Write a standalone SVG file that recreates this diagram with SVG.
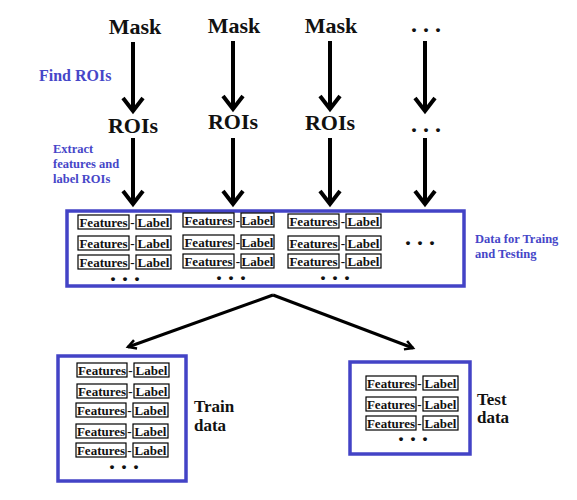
<svg xmlns="http://www.w3.org/2000/svg" width="577" height="500" viewBox="0 0 577 500" font-family="'Liberation Serif', 'Times New Roman', serif" font-weight="bold">
<style>
.big{font-size:22px;fill:#111;text-anchor:middle}
.blue{fill:#4646c8}
.cell{fill:#fff;stroke:#000;stroke-width:1.2}
.ct{font-size:13px;fill:#111;text-anchor:middle}
.dots{font-size:24px;fill:#111;text-anchor:middle}
.frame{fill:#fff;stroke:#4343c6;stroke-width:3.5}
.arr{fill:none;stroke:#000;stroke-width:4}
.bar{fill:none;stroke:#000;stroke-width:3}
.side{font-size:17px;fill:#111}
</style>
<defs>
<marker id="ah" markerWidth="12" markerHeight="12" refX="9" refY="6" orient="auto" markerUnits="userSpaceOnUse">
<path d="M1,1.5 L9,6 L1,10.5" fill="none" stroke="#000" stroke-width="2.5"/>
</marker>
</defs>
<rect width="577" height="500" fill="#fff"/>

<g id="top-row">
<text class="big" x="135" y="34">Mask</text>
<text class="big" x="234" y="33">Mask</text>
<text class="big" x="331" y="33">Mask</text>
<text class="dots" x="426" y="32">. . .</text>
</g>
<g id="roi-row">
<text class="big" x="133" y="133" font-size="21">ROIs</text>
<text class="big" x="233" y="129" font-size="21">ROIs</text>
<text class="big" x="330" y="130" font-size="21">ROIs</text>
<text class="dots" x="426" y="132">. . .</text>
</g>
<g id="labels">
<text class="blue" x="39" y="81" font-size="16">Find ROIs</text>
<text class="blue" x="53" y="153" font-size="12.5">Extract</text>
<text class="blue" x="53" y="168" font-size="12.5">features and</text>
<text class="blue" x="53" y="183" font-size="12.5">label ROIs</text>
<text class="blue" x="475" y="243" font-size="12.5">Data for Traing</text>
<text class="blue" x="475" y="258" font-size="12.5">and Testing</text>
</g>

<g id="connectors">
<line class="arr" x1="133" y1="42" x2="133" y2="110"/><polyline class="arr" points="123,98 133,111 143,98"/>
<line class="arr" x1="233" y1="41" x2="233" y2="108"/><polyline class="arr" points="223,96 233,109 243,96"/>
<line class="arr" x1="330" y1="41" x2="330" y2="108"/><polyline class="arr" points="320,96 330,109 340,96"/>
<line class="arr" x1="425" y1="41" x2="425" y2="110"/><polyline class="arr" points="415,98 425,111 435,98"/>
<line class="arr" x1="133" y1="138" x2="133" y2="203"/><polyline class="arr" points="123,191 133,204 143,191"/>
<line class="arr" x1="233" y1="138" x2="233" y2="203"/><polyline class="arr" points="223,191 233,204 243,191"/>
<line class="arr" x1="330" y1="138" x2="330" y2="203"/><polyline class="arr" points="320,191 330,204 340,191"/>
<line class="arr" x1="425" y1="138" x2="425" y2="203"/><polyline class="arr" points="415,191 425,204 435,191"/>
<line class="bar" x1="273" y1="295" x2="128" y2="347" marker-end="url(#ah)"/>
<line class="bar" x1="273" y1="295" x2="413" y2="348" marker-end="url(#ah)"/>
</g>

<g id="data-box">
<rect class="frame" x="67" y="211" width="397" height="75"/>
<rect class="cell" x="78" y="215" width="51" height="14"/><text class="ct" x="103.5" y="226.5">Features</text><text class="ct" x="132.5" y="226.5">-</text><rect class="cell" x="136" y="215" width="35" height="14"/><text class="ct" x="153.5" y="226.5">Label</text>
<rect class="cell" x="78" y="236" width="51" height="14"/><text class="ct" x="103.5" y="247.5">Features</text><text class="ct" x="132.5" y="247.5">-</text><rect class="cell" x="136" y="236" width="35" height="14"/><text class="ct" x="153.5" y="247.5">Label</text>
<rect class="cell" x="78" y="255" width="51" height="14"/><text class="ct" x="103.5" y="266.5">Features</text><text class="ct" x="132.5" y="266.5">-</text><rect class="cell" x="136" y="255" width="35" height="14"/><text class="ct" x="153.5" y="266.5">Label</text>
<text class="dots" x="125" y="281">. . .</text>
<rect class="cell" x="183" y="213" width="51" height="14"/><text class="ct" x="208.5" y="224.5">Features</text><text class="ct" x="238" y="224.5">-</text><rect class="cell" x="241" y="213" width="33" height="14"/><text class="ct" x="257.5" y="224.5">Label</text>
<rect class="cell" x="183" y="235" width="51" height="14"/><text class="ct" x="208.5" y="246.5">Features</text><text class="ct" x="238" y="246.5">-</text><rect class="cell" x="241" y="235" width="33" height="14"/><text class="ct" x="257.5" y="246.5">Label</text>
<rect class="cell" x="183" y="254" width="51" height="14"/><text class="ct" x="208.5" y="265.5">Features</text><text class="ct" x="238" y="265.5">-</text><rect class="cell" x="241" y="254" width="33" height="14"/><text class="ct" x="257.5" y="265.5">Label</text>
<text class="dots" x="231" y="280">. . .</text>
<rect class="cell" x="288" y="214" width="51" height="14"/><text class="ct" x="313.5" y="225.5">Features</text><text class="ct" x="343" y="225.5">-</text><rect class="cell" x="346" y="214" width="35" height="14"/><text class="ct" x="363.5" y="225.5">Label</text>
<rect class="cell" x="288" y="236" width="51" height="14"/><text class="ct" x="313.5" y="247.5">Features</text><text class="ct" x="343" y="247.5">-</text><rect class="cell" x="346" y="236" width="35" height="14"/><text class="ct" x="363.5" y="247.5">Label</text>
<rect class="cell" x="288" y="254" width="51" height="14"/><text class="ct" x="313.5" y="265.5">Features</text><text class="ct" x="343" y="265.5">-</text><rect class="cell" x="346" y="254" width="35" height="14"/><text class="ct" x="363.5" y="265.5">Label</text>
<text class="dots" x="335" y="280">. . .</text>
<text class="dots" x="420" y="245">. . .</text>
</g>

<g id="train-box">
<rect class="frame" x="58" y="356" width="128" height="125"/>
<rect class="cell" x="77" y="363" width="50" height="14"/><text class="ct" x="102" y="374.5">Features</text><text class="ct" x="130.5" y="374.5">-</text><rect class="cell" x="134" y="363" width="35" height="14"/><text class="ct" x="151.5" y="374.5">Label</text>
<rect class="cell" x="77" y="384" width="50" height="14"/><text class="ct" x="102" y="395.5">Features</text><text class="ct" x="130.5" y="395.5">-</text><rect class="cell" x="134" y="384" width="35" height="14"/><text class="ct" x="151.5" y="395.5">Label</text>
<rect class="cell" x="76" y="403" width="50" height="14"/><text class="ct" x="101" y="414.5">Features</text><text class="ct" x="129.5" y="414.5">-</text><rect class="cell" x="133" y="403" width="35" height="14"/><text class="ct" x="150.5" y="414.5">Label</text>
<rect class="cell" x="76" y="424" width="50" height="14"/><text class="ct" x="101" y="435.5">Features</text><text class="ct" x="129.5" y="435.5">-</text><rect class="cell" x="133" y="424" width="35" height="14"/><text class="ct" x="150.5" y="435.5">Label</text>
<rect class="cell" x="76" y="443" width="50" height="14"/><text class="ct" x="101" y="454.5">Features</text><text class="ct" x="129.5" y="454.5">-</text><rect class="cell" x="133" y="443" width="35" height="14"/><text class="ct" x="150.5" y="454.5">Label</text>
<text class="dots" x="124" y="469">. . .</text>
<text class="side" x="194" y="412">Train</text>
<text class="side" x="194" y="431">data</text>
</g>

<g id="test-box">
<rect class="frame" x="350" y="362" width="120" height="92"/>
<rect class="cell" x="366" y="376" width="50" height="14"/><text class="ct" x="391" y="387.5">Features</text><text class="ct" x="419.5" y="387.5">-</text><rect class="cell" x="423" y="376" width="35" height="14"/><text class="ct" x="440.5" y="387.5">Label</text>
<rect class="cell" x="366" y="397" width="50" height="14"/><text class="ct" x="391" y="408.5">Features</text><text class="ct" x="419.5" y="408.5">-</text><rect class="cell" x="423" y="397" width="35" height="14"/><text class="ct" x="440.5" y="408.5">Label</text>
<rect class="cell" x="366" y="416" width="50" height="14"/><text class="ct" x="391" y="427.5">Features</text><text class="ct" x="419.5" y="427.5">-</text><rect class="cell" x="423" y="416" width="35" height="14"/><text class="ct" x="440.5" y="427.5">Label</text>
<text class="dots" x="413" y="441">. . .</text>
<text class="side" x="477" y="405">Test</text>
<text class="side" x="477" y="423">data</text>
</g>
</svg>
